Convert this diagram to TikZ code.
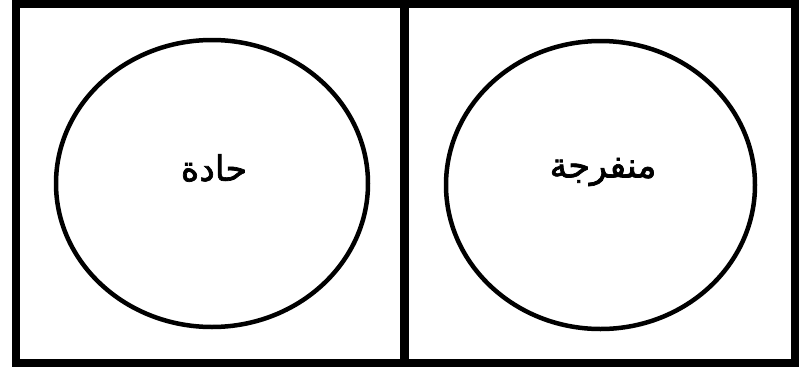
\documentclass[tikz,border=0pt]{standalone}
\usepackage{fontspec}
\usetikzlibrary{shapes.geometric}
\TeXXeTstate=1
\newfontfamily\arabicfont[Script=Arabic, FakeBold=2]{DejaVu Sans}
\tikzset{
  panel/.style={draw=black, line width=8pt},
  oval/.style={draw=black, ellipse, line width=4.5pt, inner sep=0pt},
  lbl/.style={font=\arabicfont\fontsize{35}{40}\selectfont, inner sep=0pt}
}
\begin{document}
\begin{tikzpicture}[x=1pt,y=-1pt]
\useasboundingbox (0,0) rectangle (804,370);
\fill[white] (0,0) rectangle (804,370);
\draw[panel] (16,4) rectangle (794.5,363);
\draw[draw=black, line width=9pt] (404.5,4) -- (404.5,363);
\node[oval, minimum width=312pt, minimum height=287pt] (left) at (212,183.5) {};
\node[oval, minimum width=309pt, minimum height=288pt] (right) at (600.5,185) {};
\node[lbl] (acute) at (214,168) {\beginR حادة\endR};
\node[lbl] (obtuse) at (603,172) {\beginR منفرجة\endR};
\end{tikzpicture}
\end{document}
